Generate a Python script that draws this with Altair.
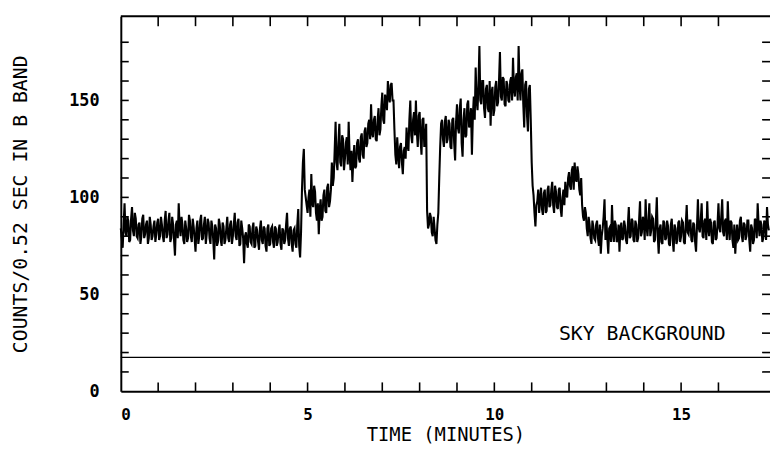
import altair as alt
import pandas as pd

# ---- data (counts per 0.52 s) ----
# samples on the 0.05-minute grid (t = 0.00, 0.05, 0.10, ...)
counts_min0 = [84, 74, 97, 80, 88, 78, 95, 80, 89, 79, 87, 80, 91, 81, 88, 79, 86, 80, 88, 81]
counts_min1 = [89, 80, 86, 77, 93, 81, 92, 79, 86, 70, 88, 97, 80, 86, 76, 84, 79, 88, 77, 85]
counts_min2 = [72, 88, 80, 91, 79, 90, 81, 87, 76, 85, 68, 84, 77, 86, 75, 85, 78, 90, 77, 88]
counts_min3 = [80, 92, 78, 89, 76, 84, 66, 82, 74, 85, 76, 87, 75, 83, 73, 88, 76, 84, 72, 86]
counts_min4 = [76, 85, 74, 84, 77, 86, 73, 83, 78, 92, 75, 85, 72, 84, 74, 94, 69, 104, 125, 100]
counts_min5 = [92, 104, 112, 95, 103, 88, 81, 99, 90, 104, 92, 107, 98, 118, 110, 139, 114, 138, 116, 130]
counts_min6 = [120, 131, 139, 114, 108, 127, 116, 130, 118, 133, 120, 136, 128, 140, 148, 131, 142, 129, 146, 135]
counts_min7 = [154, 138, 150, 160, 149, 159, 150, 122, 131, 115, 128, 112, 126, 136, 124, 150, 128, 144, 150, 126]
counts_min8 = [144, 122, 141, 130, 93, 86, 90, 80, 84, 76, 92, 126, 140, 126, 142, 130, 138, 125, 141, 119]
counts_min9 = [148, 133, 151, 121, 146, 132, 150, 138, 122, 152, 167, 145, 178, 148, 160, 141, 158, 144, 137, 157]
counts_min10 = [145, 160, 149, 175, 150, 161, 147, 158, 149, 162, 172, 152, 164, 178, 150, 166, 136, 160, 134, 158]
counts_min11 = [118, 101, 85, 98, 92, 105, 91, 104, 93, 106, 96, 108, 92, 103, 94, 105, 90, 104, 108, 100]
counts_min12 = [113, 104, 116, 118, 108, 112, 101, 96, 88, 92, 80, 86, 76, 85, 78, 88, 75, 71, 84, 99]
counts_min13 = [88, 71, 85, 96, 77, 86, 78, 72, 87, 79, 85, 76, 95, 80, 88, 77, 86, 79, 98, 82]
counts_min14 = [88, 99, 80, 97, 83, 89, 78, 100, 71, 86, 76, 87, 79, 85, 75, 89, 72, 84, 78, 88]
counts_min15 = [80, 87, 76, 96, 81, 88, 77, 86, 72, 99, 82, 97, 79, 89, 98, 80, 87, 76, 88, 79]
counts_min16 = [97, 82, 99, 80, 89, 98, 78, 87, 74, 71, 86, 79, 90, 77, 86, 80, 88, 72, 84, 78]
counts_min17 = [88, 97, 80, 86, 79, 87, 95, 83]

# samples half-way between (t = 0.025, 0.075, ...)
mid_min0 = [79, 86, 82, 90, 77, 89, 83, 92, 80, 86, 76, 89, 79, 86, 76, 90, 78, 85, 77, 87]
mid_min1 = [78, 90, 80, 88, 79, 88, 77, 90, 78, 86, 79, 85, 90, 78, 88, 77, 91, 80, 89, 79]
mid_min2 = [84, 76, 88, 78, 86, 76, 89, 79, 88, 78, 86, 75, 89, 78, 87, 76, 84, 79, 86, 76]
mid_min3 = [86, 80, 87, 75, 88, 79, 80, 76, 86, 77, 84, 74, 85, 77, 84, 78, 85, 75, 84, 75]
mid_min4 = [84, 77, 85, 75, 83, 76, 84, 76, 86, 79, 84, 76, 83, 76, 86, 75, 82, 118, 104, 96]
mid_min5 = [100, 90, 97, 106, 92, 97, 94, 88, 101, 93, 105, 95, 104, 106, 124, 118, 128, 118, 132, 114]
mid_min6 = [128, 117, 122, 124, 120, 115, 128, 120, 131, 122, 134, 126, 138, 130, 133, 140, 130, 140, 132, 147]
mid_min7 = [140, 153, 145, 152, 158, 150, 135, 117, 122, 126, 118, 124, 120, 127, 140, 132, 140, 132, 134, 142]
mid_min8 = [130, 140, 126, 138, 84, 92, 82, 90, 78, 86, 110, 138, 130, 139, 128, 140, 126, 140, 128, 139]
mid_min9 = [136, 146, 128, 140, 131, 148, 136, 146, 142, 140, 150, 158, 150, 160, 146, 156, 146, 160, 154, 142]
mid_min10 = [157, 147, 160, 152, 162, 148, 160, 150, 160, 150, 156, 162, 150, 158, 164, 148, 158, 142, 156, 140]
mid_min11 = [106, 92, 96, 104, 99, 94, 102, 92, 104, 95, 104, 96, 106, 95, 104, 94, 100, 96, 102, 110]
mid_min12 = [106, 114, 104, 110, 116, 104, 110, 90, 95, 84, 90, 79, 88, 79, 86, 79, 86, 80, 90, 78]
mid_min13 = [79, 84, 77, 82, 88, 77, 86, 84, 78, 88, 78, 86, 79, 89, 78, 88, 77, 88, 80, 90]
mid_min14 = [78, 85, 88, 80, 90, 77, 88, 80, 84, 77, 88, 78, 88, 76, 86, 78, 86, 76, 87, 77]
mid_min15 = [88, 77, 86, 82, 88, 78, 87, 77, 85, 84, 88, 80, 88, 78, 84, 89, 77, 87, 78, 86]
mid_min16 = [84, 90, 82, 88, 78, 84, 88, 78, 86, 80, 78, 88, 80, 87, 78, 88, 78, 86, 76, 89]
mid_min17 = [79, 86, 88, 77, 88, 78, 86]

sample_step_min = 0.05
sky_background = [17.5]
sky_label = ["SKY BACKGROUND"]
x_label_values = [0, 5, 10, 15]
y_label_values = [0, 50, 100, 150]
x_minor_ticks_bottom = [1, 2, 3, 4, 5, 6, 7, 8, 9, 10, 11, 12, 13, 14, 15, 16]
x_minor_ticks_top = [1, 2, 3, 4, 5, 6, 7, 8, 9, 10, 11, 12, 13, 14, 15, 16]
y_minor_ticks = [10, 20, 30, 40, 50, 60, 70, 80, 90, 100, 110, 120, 130, 140, 150, 160, 170, 180]

grid_counts = (counts_min0 + counts_min1 + counts_min2 + counts_min3 + counts_min4 + counts_min5
               + counts_min6 + counts_min7 + counts_min8 + counts_min9 + counts_min10 + counts_min11
               + counts_min12 + counts_min13 + counts_min14 + counts_min15 + counts_min16 + counts_min17)
mid_counts = (mid_min0 + mid_min1 + mid_min2 + mid_min3 + mid_min4 + mid_min5 + mid_min6
              + mid_min7 + mid_min8 + mid_min9 + mid_min10 + mid_min11 + mid_min12 + mid_min13
              + mid_min14 + mid_min15 + mid_min16 + mid_min17)

grid_t = [round(i * sample_step_min, 4) for i in range(len(grid_counts))]
mid_t = [round(i * sample_step_min + sample_step_min / 2, 4) for i in range(len(mid_counts))]

df = pd.DataFrame({"t": grid_t + mid_t, "c": grid_counts + mid_counts}).sort_values("t")

W, H = 656, 379
FONT = "DejaVu Sans Mono"

xs = alt.Scale(domain=[0, 17.38], nice=False, zero=False)
ys = alt.Scale(domain=[0, 193.4], nice=False, zero=False)

line = alt.Chart(df).mark_line(color="black", strokeWidth=2.1, interpolate="linear").encode(
    x=alt.X("t:Q", scale=xs,
            axis=alt.Axis(values=x_label_values, ticks=False, grid=False, domain=True,
                          domainColor="black", domainWidth=2, labelFont=FONT, labelFontSize=16,
                          labelFontWeight="bold", labelColor="black", labelPadding=15,
                          title="TIME (MINUTES)", titleFont=FONT, titleFontSize=19,
                          titleFontWeight="normal", titleColor="black", titlePadding=4)),
    y=alt.Y("c:Q", scale=ys,
            axis=alt.Axis(values=y_label_values, ticks=False, grid=False, domain=True,
                          domainColor="black", domainWidth=2, labelFont=FONT, labelFontSize=17,
                          labelFontWeight="bold", labelColor="black", labelPadding=22,
                          title="COUNTS/0.52 SEC IN B BAND", titleFont=FONT, titleFontSize=20,
                          titleFontWeight="normal", titleColor="black", titlePadding=39)),
    order="t:Q",
)

sky = alt.Chart(pd.DataFrame({"v": sky_background})).mark_rule(color="black", strokeWidth=1.3).encode(
    y=alt.Y("v:Q", scale=ys), x=alt.value(0), x2=alt.value(W)
)

sky_text = alt.Chart(pd.DataFrame({"label": sky_label})).mark_text(
    font=FONT, fontSize=20, color="black", align="left", baseline="middle"
).encode(x=alt.datum(11.73, scale=xs), y=alt.datum(29.6, scale=ys), text="label:N")

bottom_ticks = alt.Chart(pd.DataFrame({"tx": x_minor_ticks_bottom})).mark_rule(
    color="black", strokeWidth=1.6).encode(x=alt.X("tx:Q", scale=xs), y=alt.value(H), y2=alt.value(H - 9))
top_ticks = alt.Chart(pd.DataFrame({"tx": x_minor_ticks_top})).mark_rule(
    color="black", strokeWidth=1.6).encode(x=alt.X("tx:Q", scale=xs), y=alt.value(0), y2=alt.value(10))
left_ticks = alt.Chart(pd.DataFrame({"ty": y_minor_ticks})).mark_rule(
    color="black", strokeWidth=1.6).encode(y=alt.Y("ty:Q", scale=ys), x=alt.value(0), x2=alt.value(8))
right_ticks = alt.Chart(pd.DataFrame({"ty": y_minor_ticks})).mark_rule(
    color="black", strokeWidth=1.6).encode(y=alt.Y("ty:Q", scale=ys), x=alt.value(W - 8), x2=alt.value(W))
top_border = alt.Chart(pd.DataFrame({"ty": [0]})).mark_rule(color="black", strokeWidth=2).encode(
    y=alt.value(0), x=alt.value(0), x2=alt.value(W))

chart = alt.layer(
    sky, line, sky_text, bottom_ticks, top_ticks, left_ticks, right_ticks, top_border
).properties(
    width=W, height=H,
    autosize=alt.AutoSizeParams(type="none"),
    padding={"left": 114, "top": 6, "right": 0, "bottom": 62},
    background="white",
).configure_view(stroke=None)

chart.save("out.html", embed_options={"renderer": "svg", "actions": False})
